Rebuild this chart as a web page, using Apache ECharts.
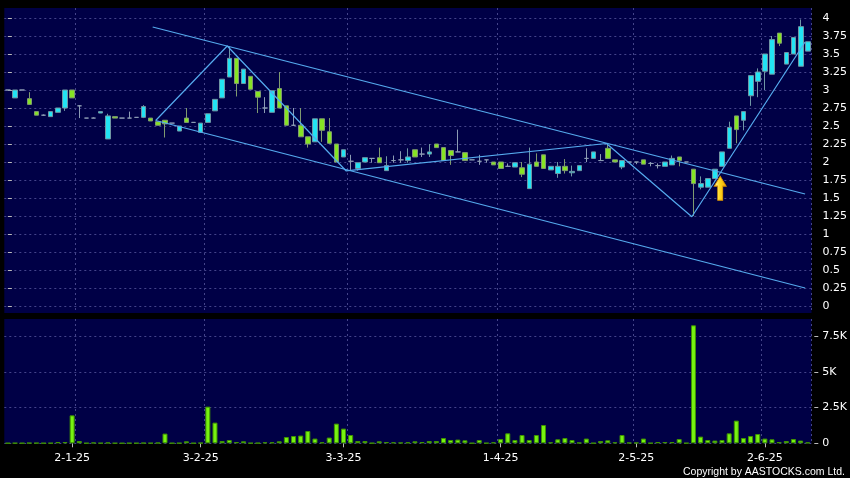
<!DOCTYPE html>
<html><head><meta charset="utf-8">
<script src="https://cdn.jsdelivr.net/npm/echarts@6/dist/echarts.min.js"></script>
<style>html,body{margin:0;padding:0;background:#000;}#c{width:850px;height:478px;}</style>
</head><body><div id="c"></div>
<script>
// ---- data ----
const dateLabels = ['2-1-25','3-2-25','3-3-25','1-4-25','2-5-25','2-6-25'];
const dateLabelIndex = [9,27,47,69,88,106];
const monthLineIndex = [10,28,48,69,88,106];
const opens = [3.00,2.89,3.00,2.88,2.70,2.65,2.63,2.69,2.75,3.00,
 2.78,2.61,2.61,2.68,2.32,2.63,2.61,2.61,2.62,2.62,
 2.61,2.56,2.58,2.54,2.43,2.61,2.55,2.41,2.55,2.71,
 2.89,3.18,3.44,3.09,3.19,2.98,2.75,2.69,3.02,2.78,
 2.51,2.51,2.35,2.28,2.60,2.42,2.25,2.07,2.01,1.91,
 2.00,2.05,2.06,1.88,2.02,2.03,2.02,2.17,2.11,2.11,
 2.25,2.20,2.16,2.14,2.13,2.03,2.01,2.03,2.00,2.00,
 1.94,1.93,1.92,1.63,2.00,2.10,1.89,1.84,1.94,1.85,
 1.88,2.05,2.05,2.02,2.19,2.03,1.93,2.00,2.00,2.03,
 1.98,1.95,1.94,1.96,2.07,2.00,1.90,1.65,1.65,1.77,
 1.94,2.19,2.64,2.58,2.92,3.12,3.26,3.22,3.79,3.36,
 3.50,3.33,3.54];
const closes = [3.00,3.00,3.00,2.80,2.65,2.65,2.70,2.75,3.00,2.89,
 2.78,2.61,2.61,2.70,2.64,2.61,2.61,2.61,2.62,2.77,
 2.57,2.51,2.53,2.54,2.50,2.55,2.55,2.54,2.67,2.87,
 3.15,3.44,3.09,3.29,3.01,2.90,2.75,2.99,2.75,2.51,
 2.51,2.35,2.25,2.60,2.44,2.26,2.00,2.17,2.01,1.99,
 2.06,2.05,1.99,1.95,2.02,2.03,2.07,2.07,2.11,2.14,
 2.20,2.02,2.09,2.14,2.02,2.03,2.01,2.03,1.96,1.91,
 1.94,1.99,1.83,1.97,1.94,1.91,1.94,1.94,1.88,1.87,
 1.95,2.05,2.14,2.02,2.05,2.00,2.02,2.00,2.00,1.97,
 1.98,1.95,2.00,2.05,2.02,2.00,1.70,1.70,1.77,1.90,
 2.14,2.48,2.45,2.70,3.20,3.25,3.50,3.70,3.65,3.52,
 3.73,3.88,3.67];
const lows = [3.00,2.89,3.00,2.80,2.65,2.64,2.63,2.69,2.71,2.89,
 2.61,2.61,2.61,2.68,2.32,2.61,2.61,2.61,2.62,2.61,
 2.57,2.51,2.34,2.54,2.43,2.55,2.55,2.41,2.55,2.71,
 2.89,3.18,2.91,3.09,3.01,2.68,2.68,2.69,2.75,2.51,
 2.50,2.35,2.20,2.28,2.28,2.25,2.00,2.07,1.89,1.88,
 2.00,1.99,1.99,1.88,1.99,1.99,1.99,2.07,2.07,2.07,
 2.20,2.02,1.96,2.14,2.02,2.03,1.96,1.99,1.96,1.91,
 1.94,1.93,1.79,1.63,1.94,1.91,1.89,1.78,1.84,1.80,
 1.88,2.00,2.05,2.02,2.05,2.00,1.90,2.00,1.97,1.97,
 1.94,1.91,1.94,1.96,1.94,2.00,1.25,1.62,1.65,1.77,
 1.94,2.19,2.26,2.44,2.78,2.90,3.00,3.22,3.61,3.36,
 3.50,3.33,3.54];
const highs = [3.00,3.00,3.00,2.97,2.70,2.66,2.70,2.75,3.00,3.00,
 2.79,2.61,2.62,2.70,2.67,2.63,2.61,2.70,2.62,2.79,
 2.61,2.56,2.58,2.54,2.50,2.75,2.55,2.54,2.67,2.87,
 3.15,3.60,3.44,3.29,3.19,2.98,2.90,2.99,3.25,2.78,
 2.75,2.75,2.35,2.60,2.60,2.61,2.25,2.17,2.10,1.99,
 2.06,2.05,2.20,2.08,2.09,2.15,2.19,2.17,2.20,2.25,
 2.25,2.20,2.16,2.45,2.13,2.03,2.10,2.03,2.00,2.00,
 1.98,1.99,2.00,2.20,2.12,2.10,1.94,2.00,2.04,1.95,
 1.95,2.19,2.14,2.11,2.25,2.03,2.02,2.00,2.00,2.03,
 2.00,1.98,2.00,2.09,2.07,2.00,1.90,1.80,1.77,1.90,
 2.14,2.56,2.64,2.70,3.20,3.30,3.50,3.75,3.79,3.52,
 3.73,3.98,3.67];
const volumes = [15,20,15,30,25,15,20,90,90,1960,
 160,15,50,20,50,15,10,20,15,30,
 20,40,680,15,20,140,15,30,2570,1450,
 160,230,90,140,20,25,70,70,140,440,
 510,540,860,330,70,400,1380,1030,580,160,
 160,20,140,90,70,50,70,140,90,160,
 160,370,230,260,210,15,230,20,70,300,
 700,230,580,230,580,1280,70,280,370,230,
 50,330,20,160,210,70,580,50,50,330,
 20,90,90,90,300,20,8270,470,230,190,
 230,700,1590,370,510,650,330,280,90,160,
 300,190,60];
const priceTicks = [0,0.25,0.5,0.75,1,1.25,1.5,1.75,2,2.25,2.5,2.75,3,3.25,3.5,3.75,4];
const volTicks = [0,2500,5000,7500];
const volTickLabels = ['0','2.5K','5K','7.5K'];
const upperChannel = [[20.27,3.875],[111.6,1.556]];
const lowerChannel = [[20.69,2.576],[111.6,0.25]];
const zigzag = [[20.69,2.576],[30.71,3.611],[47.33,1.878],[83.8,2.257],[95.75,1.24],[111.6,3.667]];
const arrowPoint = [[99.72,1.635]];

// ---- build ----
const categories = opens.map((_, i) => {
  const j = dateLabelIndex.indexOf(i);
  return j >= 0 ? dateLabels[j] : String(i);
});
const candles = opens.map((o, i) => [o, closes[i], lows[i], highs[i]]);
const gridLine = {color: '#44448a', type: [2, 3], width: 1};
const lbl = {color: '#ffffff', fontFamily: 'DejaVu Sans', fontSize: 11};

const chart = echarts.init(document.getElementById('c'), null, {renderer: 'canvas'});
chart.setOption({
  backgroundColor: '#000000',
  animation: false,
  grid: [
    {left: 4.3, width: 808.9, top: 8, height: 305, show: true, backgroundColor: '#000046', borderWidth: 0},
    {left: 4.3, width: 808.9, top: 319, height: 124.3, show: true, backgroundColor: '#000046', borderWidth: 0}
  ],
  xAxis: [
    {type: 'category', gridIndex: 0, data: categories, boundaryGap: true,
     axisLine: {show: false}, axisTick: {show: false}, axisLabel: {show: false},
     splitLine: {show: true, interval: (i) => monthLineIndex.indexOf(i) >= 0, lineStyle: gridLine}},
    {type: 'category', gridIndex: 1, data: categories, boundaryGap: true,
     axisLine: {show: false},
     axisTick: {show: true, alignWithLabel: true, length: 4, interval: (i) => dateLabelIndex.indexOf(i) >= 0, lineStyle: {color: '#bbbbbb'}},
     axisLabel: Object.assign({interval: (i) => dateLabelIndex.indexOf(i) >= 0, margin: 9}, lbl),
     splitLine: {show: true, interval: (i) => monthLineIndex.indexOf(i) >= 0, lineStyle: gridLine}},
    {type: 'value', gridIndex: 0, min: -0.5, max: 112.5, show: false}
  ],
  yAxis: [
    {type: 'value', gridIndex: 0, position: 'right', offset: 3, min: -0.09722, max: 4.13889,
     axisLine: {show: false},
     axisTick: {show: true, length: 4, customValues: priceTicks, lineStyle: {color: '#bbbbbb'}},
     axisLabel: Object.assign({customValues: priceTicks, margin: 8}, lbl),
     splitLine: {show: true, lineStyle: gridLine}},
    {type: 'value', gridIndex: 1, position: 'right', offset: 3, min: 0, max: 8712,
     axisLine: {show: false},
     axisTick: {show: true, length: 4, customValues: volTicks, lineStyle: {color: '#bbbbbb'}},
     axisLabel: Object.assign({customValues: volTicks, margin: 8,
       formatter: (v) => volTickLabels[volTicks.indexOf(v)]}, lbl),
     splitLine: {show: true, lineStyle: gridLine}}
  ],
  series: [
    {type: 'candlestick', xAxisIndex: 0, yAxisIndex: 0, data: candles, barWidth: 5,
     itemStyle: {color: '#22e4f4', color0: '#86e424', borderColor: '#6f96a4', borderColor0: '#7f9a70',
                 borderColorDoji: '#8c9cb4', borderWidth: 1}},
    {type: 'bar', xAxisIndex: 1, yAxisIndex: 1, data: volumes, barWidth: 5, clip: false,
     itemStyle: {color: '#77f211', borderColor: '#3f9400', borderWidth: 1}},
    {type: 'line', xAxisIndex: 2, yAxisIndex: 0, data: upperChannel, symbol: 'none', silent: true,
     lineStyle: {color: '#55aaee', width: 1.2}},
    {type: 'line', xAxisIndex: 2, yAxisIndex: 0, data: lowerChannel, symbol: 'none', silent: true,
     lineStyle: {color: '#55aaee', width: 1.2}},
    {type: 'line', xAxisIndex: 2, yAxisIndex: 0, data: zigzag, symbol: 'none', silent: true,
     lineStyle: {color: '#55aaee', width: 1.2}},
    {type: 'scatter', xAxisIndex: 2, yAxisIndex: 0, data: arrowPoint, silent: true, z: 10,
     symbol: 'path://M5,0 L10,9 L7.2,9 L7.2,22 L2.8,22 L2.8,9 L0,9 Z', symbolSize: [12, 24],
     itemStyle: {color: new echarts.graphic.LinearGradient(0, 0, 1, 0, [
       {offset: 0, color: '#fff6b0'}, {offset: 0.45, color: '#ffd820'}, {offset: 1, color: '#f0a800'}]),
       borderColor: '#d89000', borderWidth: 0.8, opacity: 1}}
  ],
  graphic: [
    {type: 'text', x: 845, y: 472, silent: true,
     style: {text: 'Copyright by AASTOCKS.com Ltd.', fill: '#ffffff', font: '10.5px "Liberation Sans"',
             textAlign: 'right', textVerticalAlign: 'middle'}}
  ]
});
</script></body></html>
